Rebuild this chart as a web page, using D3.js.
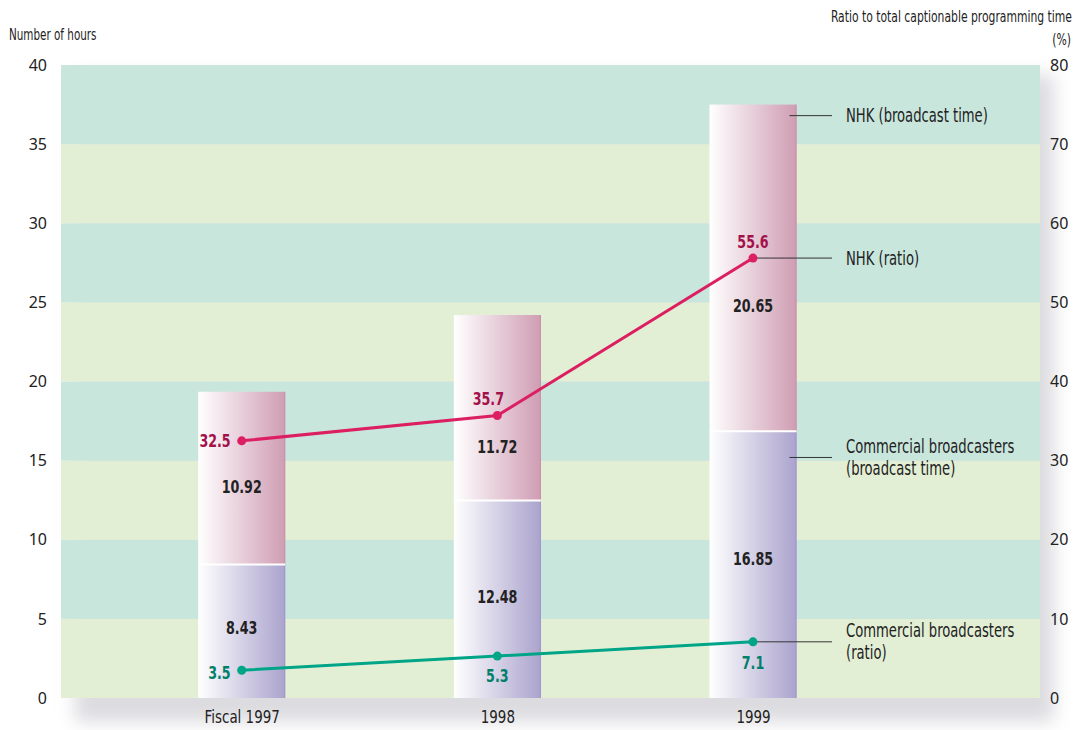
<!DOCTYPE html>
<html>
<head>
  <meta charset="utf-8">
  <title>Captioned hours</title>
  <style>
    body { margin: 0; background: #fff; }
    svg text { font-family: "DejaVu Sans Condensed", "Liberation Sans Narrow", sans-serif; fill: #222; }
    .tick-num { font-family: "Noto Sans", "DejaVu Sans", sans-serif; font-size: 16px; }
  </style>
</head>
<body>
  <div id="chart"></div>

  <script src="https://d3js.org/d3.v7.min.js"></script>
  <script>
    // data
    const years = ["Fiscal 1997", "1998", "1999"];
    const commercialHours = [8.43, 12.48, 16.85];
    const nhkHours = [10.92, 11.72, 20.65];
    const nhkRatio = [32.5, 35.7, 55.6];
    const commercialRatio = [3.5, 5.3, 7.1];
    const hourTicks = [0, 5, 10, 15, 20, 25, 30, 35, 40];
    const ratioTicks = [0, 10, 20, 30, 40, 50, 60, 70, 80];

    // where the value labels sit inside the bars (in hours)
    const commercialLabelAt = [4.42, 6.38, 8.78];
    const nhkLabelAt = [13.33, 15.86, 24.77];
    // ratio label offsets from the point [dx, dy, anchor]
    const nhkRatioOffset = [[-11, 0, "end"], [-9, -16, "middle"], [0, -16, "middle"]];
    const comRatioOffset = [[-11, 3, "end"], [0, 20, "middle"], [0, 21, "middle"]];

    const width = 1075, height = 730;
    const x0 = 61, x1 = 1040, yTop = 65, yBot = 698;
    const barW = 87;

    // the original type is very narrow, so squash text horizontally
    function squeeze(sel, k) {
      sel.each(function () {
        const t = d3.select(this);
        const tx = +t.attr("x") || 0, ty = +t.attr("y") || 0;
        t.attr("x", 0).attr("y", 0)
          .attr("transform", `translate(${tx},${ty}) scale(${k},1)`);
      });
    }

    const svg = d3.select("#chart").append("svg")
      .attr("width", width).attr("height", height);

    const defs = svg.append("defs");
    const blur = defs.append("filter").attr("id", "shadow")
      .attr("x", "-10%").attr("y", "-10%").attr("width", "130%").attr("height", "140%");
    blur.append("feGaussianBlur").attr("stdDeviation", 9);

    const gNhk = defs.append("linearGradient").attr("id", "gradNhk");
    gNhk.append("stop").attr("offset", "0%").attr("stop-color", "#ffffff");
    gNhk.append("stop").attr("offset", "100%").attr("stop-color", "#cf9db3");
    const gCom = defs.append("linearGradient").attr("id", "gradCom");
    gCom.append("stop").attr("offset", "0%").attr("stop-color", "#ffffff");
    gCom.append("stop").attr("offset", "100%").attr("stop-color", "#aba3cd");

    const x = d3.scalePoint().domain(years).range([241.7, 753]);
    const y = d3.scaleLinear().domain([0, 40]).range([yBot, yTop]);
    const yR = d3.scaleLinear().domain([0, 80]).range([yBot, yTop]);

    // drop shadow behind the plot area
    svg.append("rect")
      .attr("x", x0 + 14).attr("y", yTop + 10)
      .attr("width", x1 - x0).attr("height", yBot - yTop + 14)
      .attr("fill", "#dcdce0")
      .attr("filter", "url(#shadow)");

    // background bands
    const bands = d3.range(0, 40, 5);
    svg.append("g").selectAll("rect").data(bands).join("rect")
      .attr("x", x0).attr("width", x1 - x0)
      .attr("y", d => y(d + 5)).attr("height", d => y(d) - y(d + 5))
      .attr("fill", d => (d / 5) % 2 === 1 ? "#c9e6dd" : "#e2efd5");

    // bars
    const bars = svg.append("g");
    years.forEach((yr, i) => {
      const cx = x(yr);
      const c = commercialHours[i], n = nhkHours[i];
      bars.append("rect")
        .attr("x", cx - barW / 2).attr("width", barW)
        .attr("y", y(c)).attr("height", y(0) - y(c))
        .attr("fill", "url(#gradCom)");
      bars.append("rect")
        .attr("x", cx - barW / 2).attr("width", barW)
        .attr("y", y(c + n)).attr("height", y(c) - y(c + n))
        .attr("fill", "url(#gradNhk)");
      bars.append("line")
        .attr("x1", cx + barW / 2 - 0.5).attr("x2", cx + barW / 2 - 0.5)
        .attr("y1", y(c)).attr("y2", y(0))
        .attr("stroke", "#9d95cf").attr("stroke-width", 1);
      bars.append("line")
        .attr("x1", cx + barW / 2 - 0.5).attr("x2", cx + barW / 2 - 0.5)
        .attr("y1", y(c + n)).attr("y2", y(c))
        .attr("stroke", "#c98fa9").attr("stroke-width", 1);
      bars.append("line")
        .attr("x1", cx - barW / 2).attr("x2", cx + barW / 2)
        .attr("y1", y(c)).attr("y2", y(c))
        .attr("stroke", "#fff").attr("stroke-width", 2);

      bars.append("text")
        .attr("x", cx).attr("y", y(commercialLabelAt[i]))
        .attr("dy", "0.35em").attr("text-anchor", "middle")
        .style("font-size", "17px").style("font-weight", "bold")
        .text(c.toFixed(2))
        .call(squeeze, 0.83);
      bars.append("text")
        .attr("x", cx).attr("y", y(nhkLabelAt[i]))
        .attr("dy", "0.35em").attr("text-anchor", "middle")
        .style("font-size", "17px").style("font-weight", "bold")
        .text(n.toFixed(2))
        .call(squeeze, 0.83);
    });

    // leader lines and series labels
    const last = years[years.length - 1];
    const lx = x(last);
    const leaders = [
      { y: y(36.8), from: lx + barW / 2 - 7, lines: ["NHK (broadcast time)"] },
      { y: yR(nhkRatio[2]), from: lx, lines: ["NHK (ratio)"] },
      { y: y(15.2), from: lx + barW / 2 - 7, lines: ["Commercial broadcasters", "(broadcast time)"] },
      { y: yR(commercialRatio[2]), from: lx, lines: ["Commercial broadcasters", "(ratio)"] }
    ];
    const lead = svg.append("g");
    leaders.forEach(d => {
      lead.append("line")
        .attr("x1", d.from).attr("x2", 832)
        .attr("y1", d.y).attr("y2", d.y)
        .attr("stroke", "#333").attr("stroke-width", 1);
      const t = lead.append("text")
        .attr("transform", `translate(846,${d.y - (d.lines.length - 1) * 11}) scale(0.77,1)`)
        .style("font-size", "19px");
      d.lines.forEach((s, k) => {
        t.append("tspan").attr("x", 0)
          .attr("dy", k === 0 ? "0.35em" : "22px").text(s);
      });
    });

    // ratio lines
    const line = d3.line().x((d, i) => x(years[i])).y(d => yR(d));
    const series = [
      { vals: nhkRatio, color: "#dc1f60", text: "#a3114a", offs: nhkRatioOffset },
      { vals: commercialRatio, color: "#00a587", text: "#00806a", offs: comRatioOffset }
    ];
    series.forEach(s => {
      svg.append("path").datum(s.vals)
        .attr("d", line).attr("fill", "none")
        .attr("stroke", s.color).attr("stroke-width", 3);
      svg.append("g").selectAll("circle").data(s.vals).join("circle")
        .attr("cx", (d, i) => x(years[i])).attr("cy", d => yR(d))
        .attr("r", 4.5).attr("fill", s.color);
      svg.append("g").selectAll("text").data(s.vals).join("text")
        .attr("x", (d, i) => x(years[i]) + s.offs[i][0])
        .attr("y", (d, i) => yR(d) + s.offs[i][1])
        .attr("dy", "0.35em")
        .attr("text-anchor", (d, i) => s.offs[i][2])
        .style("font-size", "17px").style("font-weight", "bold")
        .style("fill", s.text)
        .text(d => d)
        .call(squeeze, 0.83);
    });

    // axes
    const yAxis = d3.axisLeft(y).tickValues(hourTicks).tickSize(0).tickPadding(14);
    svg.append("g").attr("transform", `translate(${x0},0)`).call(yAxis)
      .call(g => g.select(".domain").remove())
      .call(g => g.selectAll("text").attr("class", "tick-num").attr("font-family", null).attr("font-size", null));

    const yAxisR = d3.axisRight(yR).tickValues(ratioTicks).tickSize(0).tickPadding(10);
    svg.append("g").attr("transform", `translate(${x1},0)`).call(yAxisR)
      .call(g => g.select(".domain").remove())
      .call(g => g.selectAll("text").attr("class", "tick-num").attr("font-family", null).attr("font-size", null));

    const xAxis = d3.axisBottom(x).tickSize(0).tickPadding(12);
    svg.append("g").attr("transform", `translate(0,${yBot})`).call(xAxis)
      .call(g => g.select(".domain").remove())
      .call(g => g.selectAll("text").attr("font-family", null).attr("font-size", null)
        .style("font-size", "18px").call(squeeze, 0.83));

    // titles
    svg.append("text").attr("x", 9).attr("y", 40)
      .style("font-size", "15px").text("Number of hours")
      .call(squeeze, 0.77);
    svg.append("text").attr("x", 1072).attr("y", 22)
      .attr("text-anchor", "end")
      .style("font-size", "15px").text("Ratio to total captionable programming time")
      .call(squeeze, 0.8);
    svg.append("text").attr("x", 1071).attr("y", 45)
      .attr("text-anchor", "end")
      .style("font-size", "15px").text("(%)")
      .call(squeeze, 0.8);
  </script>
</body>
</html>
